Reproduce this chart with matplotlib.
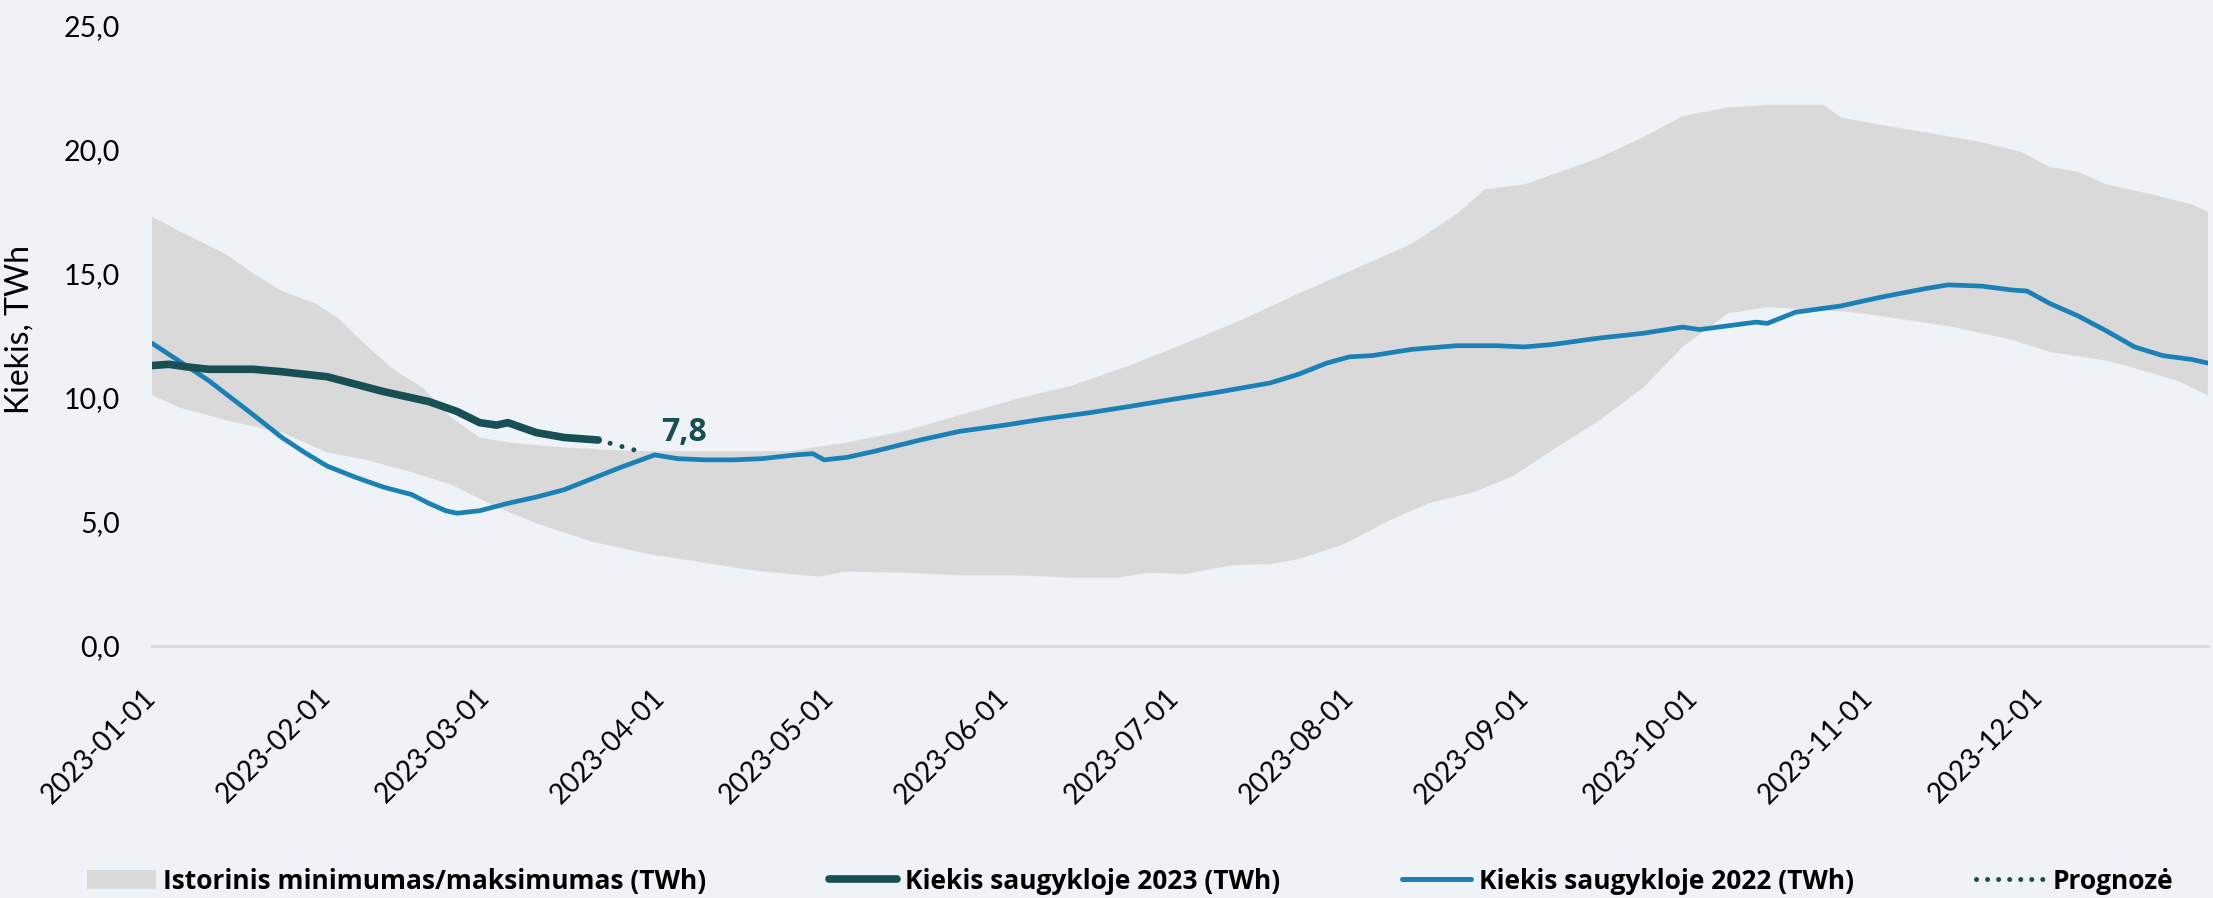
import matplotlib
matplotlib.use('Agg')
import matplotlib.pyplot as plt
import matplotlib.dates as mdates
import pandas as pd
from matplotlib.lines import Line2D
from matplotlib.patches import Patch
from matplotlib.ticker import FuncFormatter

# ------------------------------------------------------------------ #
# data (TWh)
# ------------------------------------------------------------------ #
band_max_dates = ['2023-01-01', '2023-01-06', '2023-01-14', '2023-01-19', '2023-01-24', '2023-01-30',
                  '2023-02-03', '2023-02-08', '2023-02-13', '2023-02-18', '2023-02-23', '2023-02-28',
                  '2023-03-05', '2023-03-15', '2023-03-23', '2023-03-30', '2023-04-09', '2023-04-24',
                  '2023-05-04', '2023-05-14', '2023-05-24', '2023-06-03', '2023-06-13', '2023-06-23',
                  '2023-07-03', '2023-07-13', '2023-07-23', '2023-08-02', '2023-08-12', '2023-08-20',
                  '2023-08-25', '2023-09-01', '2023-09-06', '2023-09-14', '2023-09-22', '2023-09-29',
                  '2023-10-07', '2023-10-14', '2023-10-24', '2023-10-27', '2023-11-03', '2023-11-11',
                  '2023-11-21', '2023-11-28', '2023-12-03', '2023-12-08', '2023-12-13', '2023-12-21',
                  '2023-12-28', '2023-12-31']
band_max = [17.3, 16.7, 15.8, 15.0, 14.3, 13.8,
            13.2, 12.1, 11.1, 10.4, 9.2, 8.4,
            8.2, 8.0, 7.9, 7.85, 7.85, 7.85,
            8.2, 8.65, 9.3, 9.95, 10.5, 11.3,
            12.2, 13.15, 14.2, 15.2, 16.2, 17.4,
            18.4, 18.6, 19.0, 19.65, 20.5, 21.35,
            21.7, 21.8, 21.8, 21.3, 21.0, 20.7,
            20.3, 19.9, 19.3, 19.1, 18.6, 18.2,
            17.8, 17.5]

band_min_dates = ['2023-01-01', '2023-01-06', '2023-01-14', '2023-01-24', '2023-02-01', '2023-02-08',
                  '2023-02-16', '2023-02-23', '2023-03-03', '2023-03-10', '2023-03-20', '2023-03-30',
                  '2023-04-09', '2023-04-19', '2023-04-29', '2023-05-04', '2023-05-14', '2023-05-24',
                  '2023-06-03', '2023-06-13', '2023-06-21', '2023-06-26', '2023-07-03', '2023-07-11',
                  '2023-07-18', '2023-07-23', '2023-07-31', '2023-08-08', '2023-08-15', '2023-08-23',
                  '2023-08-30', '2023-09-06', '2023-09-14', '2023-09-22', '2023-09-29', '2023-10-07',
                  '2023-10-14', '2023-10-22', '2023-10-29', '2023-11-06', '2023-11-16', '2023-11-26',
                  '2023-12-03', '2023-12-13', '2023-12-18', '2023-12-26', '2023-12-31']
band_min = [10.1, 9.6, 9.1, 8.6, 7.8, 7.5,
            7.0, 6.5, 5.6, 4.95, 4.2, 3.7,
            3.35, 3.0, 2.8, 3.0, 2.95, 2.85,
            2.85, 2.75, 2.75, 2.95, 2.9, 3.25,
            3.3, 3.5, 4.1, 5.05, 5.75, 6.2,
            6.85, 7.9, 9.05, 10.4, 12.05, 13.4,
            13.65, 13.55, 13.45, 13.2, 12.85, 12.35,
            11.85, 11.5, 11.2, 10.65, 10.1]

dates_2022 = ['2023-01-01', '2023-01-04', '2023-01-07', '2023-01-11', '2023-01-15', '2023-01-19',
              '2023-01-24', '2023-01-28', '2023-02-01', '2023-02-06', '2023-02-11', '2023-02-16',
              '2023-02-19', '2023-02-22', '2023-02-24', '2023-02-28', '2023-03-05', '2023-03-10',
              '2023-03-15', '2023-03-20', '2023-03-25', '2023-03-31', '2023-04-04', '2023-04-09',
              '2023-04-14', '2023-04-19', '2023-04-25', '2023-04-28', '2023-04-30', '2023-05-04',
              '2023-05-09', '2023-05-17', '2023-05-24', '2023-06-01', '2023-06-08', '2023-06-16',
              '2023-06-23', '2023-07-01', '2023-07-08', '2023-07-18', '2023-07-23', '2023-07-28',
              '2023-08-01', '2023-08-05', '2023-08-12', '2023-08-20', '2023-08-27', '2023-09-01',
              '2023-09-06', '2023-09-14', '2023-09-22', '2023-09-29', '2023-10-02', '2023-10-07',
              '2023-10-12', '2023-10-14', '2023-10-19', '2023-10-27', '2023-11-03', '2023-11-11',
              '2023-11-15', '2023-11-21', '2023-11-26', '2023-11-29', '2023-12-03', '2023-12-08',
              '2023-12-13', '2023-12-18', '2023-12-23', '2023-12-28', '2023-12-31']
values_2022 = [12.2, 11.75, 11.3, 10.7, 10.0, 9.3,
               8.4, 7.8, 7.25, 6.8, 6.4, 6.1,
               5.75, 5.45, 5.35, 5.45, 5.75, 6.0,
               6.3, 6.75, 7.2, 7.7, 7.55, 7.5,
               7.5, 7.55, 7.7, 7.75, 7.5, 7.6,
               7.85, 8.3, 8.65, 8.9, 9.15, 9.4,
               9.65, 9.95, 10.2, 10.6, 10.95, 11.4,
               11.65, 11.7, 11.95, 12.1, 12.1, 12.05,
               12.15, 12.4, 12.6, 12.85, 12.75, 12.9,
               13.05, 13.0, 13.45, 13.7, 14.05, 14.4,
               14.55, 14.5, 14.35, 14.3, 13.8, 13.3,
               12.7, 12.05, 11.7, 11.55, 11.4]

dates_2023 = ['2023-01-01', '2023-01-04', '2023-01-07', '2023-01-11', '2023-01-19', '2023-01-24',
              '2023-01-28', '2023-02-01', '2023-02-06', '2023-02-11', '2023-02-16', '2023-02-19',
              '2023-02-24', '2023-02-28', '2023-03-03', '2023-03-05', '2023-03-10', '2023-03-15',
              '2023-03-21']
values_2023 = [11.3, 11.35, 11.25, 11.15, 11.15, 11.05,
               10.95, 10.85, 10.55, 10.25, 10.0, 9.85,
               9.45, 9.0, 8.9, 9.0, 8.6, 8.4,
               8.3]

forecast_dates = ['2023-03-21', '2023-03-29']
forecast_values = [8.3, 7.8]

# ------------------------------------------------------------------ #
BG = '#EFF3F7'
C_BAND = '#D9D9D9'
C_2023 = '#174F55'
C_2022 = '#1A80B6'

plt.rcParams['font.family'] = ['Lato', 'DejaVu Sans']

fig = plt.figure(figsize=(22.13, 8.98), dpi=100)
fig.patch.set_facecolor(BG)
ax = fig.add_axes([0.0687, 0.2806, 0.929, 0.691])
ax.set_facecolor(BG)

# istorinis min/max juosta
xb = list(pd.to_datetime(band_max_dates)) + list(pd.to_datetime(band_min_dates))[::-1]
yb = band_max + band_min[::-1]
ax.fill(xb, yb, color=C_BAND, lw=0, zorder=1)

ax.plot(pd.to_datetime(dates_2022), values_2022, color=C_2022, lw=3.4,
        solid_joinstyle='round', solid_capstyle='round', zorder=3)
ax.plot(pd.to_datetime(dates_2023), values_2023, color=C_2023, lw=5.5,
        solid_joinstyle='round', solid_capstyle='round', zorder=4)
ax.plot(pd.to_datetime(forecast_dates), forecast_values, color=C_2023, lw=3.6,
        ls=(0, (0.01, 2.45)), dash_capstyle='round', zorder=4)

last_val = forecast_values[-1]
ax.annotate(f'{last_val:.1f}'.replace('.', ','),
            xy=(pd.to_datetime(forecast_dates[-1]), last_val),
            xytext=(29, 14), textcoords='offset points',
            ha='center', va='center', fontsize=23, fontweight='bold',
            family='Open Sans', color=C_2023)

ax.set_xlim(pd.Timestamp('2023-01-01'), pd.Timestamp('2023-12-31'))
ax.set_ylim(0, 25)
ax.set_yticks([0, 5, 10, 15, 20, 25])
ax.yaxis.set_major_formatter(FuncFormatter(lambda v, _: f'{v:.1f}'.replace('.', ',')))
ax.xaxis.set_major_locator(mdates.MonthLocator())
ax.xaxis.set_major_formatter(mdates.DateFormatter('%Y-%m-%d'))

for s in ['top', 'right', 'left']:
    ax.spines[s].set_visible(False)
ax.spines['bottom'].set_color('#D9D9D9')
ax.spines['bottom'].set_linewidth(2)
ax.spines['bottom'].set_zorder(2)

ax.tick_params(axis='y', length=0, pad=23, labelsize=20.5)
ax.tick_params(axis='x', length=0, pad=34, labelsize=20)
for lbl in ax.get_xticklabels():
    lbl.set_rotation(45)
    lbl.set_ha('right')
    lbl.set_va('center')
    lbl.set_rotation_mode('anchor')

ax.set_ylabel('Kiekis, TWh', fontsize=23)
ax.yaxis.set_label_coords(-0.057, 0.51)

handles = [
    Patch(facecolor=C_BAND, edgecolor='none'),
    Line2D([], [], color=C_2023, lw=5.5, solid_capstyle='round'),
    Line2D([], [], color=C_2022, lw=3.6, solid_capstyle='round'),
    Line2D([], [], color=C_2023, lw=3.6, ls=(0, (0.01, 2.2)), dash_capstyle='round'),
]
labels = ['Istorinis minimumas/maksimumas (TWh)', 'Kiekis saugykloje 2023 (TWh)',
          'Kiekis saugykloje 2022 (TWh)', 'Prognozė']
leg = fig.legend(handles, labels, loc='center', ncol=4, mode='expand',
                 bbox_to_anchor=(0.0393, 0.0, 0.9426, 0.0378), frameon=False,
                 prop={'family': 'Open Sans', 'weight': 'bold', 'size': 19},
                 handlelength=2.6, handleheight=0.7, handletextpad=0.3,
                 borderpad=0, borderaxespad=0)

fig.savefig('out.png', dpi=100, facecolor=BG)
